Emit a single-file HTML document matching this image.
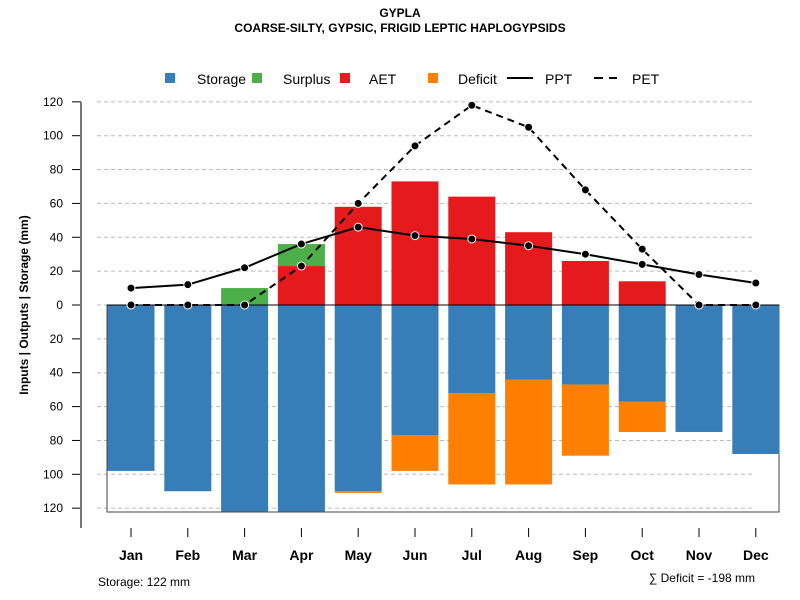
<!DOCTYPE html>
<html><head><meta charset="utf-8"><style>
body{margin:0;background:#fff;}
svg{display:block;font-family:"Liberation Sans",sans-serif;}
</style></head><body>
<svg id="c" width="800" height="600">
<text x="400" y="17" text-anchor="middle" font-size="12" font-weight="bold">GYPLA</text>
<text x="400" y="32" text-anchor="middle" font-size="12" font-weight="bold">COARSE-SILTY, GYPSIC, FRIGID LEPTIC HAPLOGYPSIDS</text>
<g id="legend" font-size="14">
<rect x="165" y="73" width="10" height="10" fill="#377eb8"/>
<text x="197" y="84">Storage</text>
<rect x="252" y="73" width="10" height="10" fill="#4daf4a"/>
<text x="283" y="84">Surplus</text>
<rect x="340" y="73" width="10" height="10" fill="#e41a1c"/>
<text x="369" y="84">AET</text>
<rect x="428" y="73" width="10" height="10" fill="#ff7f00"/>
<text x="458" y="84">Deficit</text>
<line x1="507" y1="78" x2="533" y2="78" stroke="#000" stroke-width="2"/>
<text x="545" y="84">PPT</text>
<line x1="594" y1="78" x2="617" y2="78" stroke="#000" stroke-width="2" stroke-dasharray="9,6"/>
<text x="632" y="84">PET</text>
</g>
<text transform="translate(28,305) rotate(-90)" text-anchor="middle" font-size="12" font-weight="bold">Inputs | Outputs | Storage    (mm)</text>
<text x="98" y="586" font-size="12">Storage: 122 mm</text>
<text x="755" y="582" text-anchor="end" font-size="12">∑ Deficit = -198 mm</text>
<g id="plot"></g>
</svg>
<script>
const months=["Jan","Feb","Mar","Apr","May","Jun","Jul","Aug","Sep","Oct","Nov","Dec"];
const ppt=[10,12,22,36,46,41,39,35,30,24,18,13];
const pet=[0,0,0,23,60,94,118,105,68,33,0,0];
const aet=[0,0,0,23,58,73,64,43,26,14,0,0];
const surplus=[0,0,10,13,0,0,0,0,0,0,0,0];
const storage=[98,110,122,122,110,77,52,44,47,57,75,88];
const deficit=[0,0,0,0,1,21,54,62,42,18,0,0];
const yTicks=[120,100,80,60,40,20,0,20,40,60,80,100,120];
const NS="http://www.w3.org/2000/svg";
const g=document.getElementById('plot');
const y0=305,k=1.693;
const yv=v=>y0-v*k;
const xc=i=>131+i*56.8;
const bw=47;
function mk(t,a){const e=document.createElementNS(NS,t);for(const n in a)e.setAttribute(n,a[n]);g.appendChild(e);return e;}
yTicks.forEach((t,i)=>{
  const v=i<6?t:-t; const y=yv(v);
  const gl=mk('line',{x1:97,x2:755,y1:y,y2:y,stroke:'#bbb','stroke-dasharray':'4,3'});
  
  
  const tk=mk('line',{x1:72,x2:81,y1:y,y2:y,stroke:'#000'});
  
  
  const tx=mk('text',{x:63,y:y+4,'text-anchor':'end','font-size':12});
  tx.textContent=t;
  
  
});
const ya=mk('line',{x1:81,x2:81,y1:yv(120),y2:528,stroke:'#777','stroke-width':2});


const box=mk('rect',{x:107,y:y0,width:672,height:207,fill:'none',stroke:'#444'});


const clipH=512;
months.forEach((m,i)=>{
  const x=xc(i)-bw/2;
  const s=mk('rect',{x:x,y:y0,width:bw,height:Math.min(storage[i]*k,clipH-y0),fill:'#377eb8'});
  
  
  if(deficit[i]>0){
    const d=mk('rect',{x:x,y:yv(-storage[i]),width:bw,height:deficit[i]*k,fill:'#ff7f00'});
    
    
  }
  if(aet[i]>0){
    const a=mk('rect',{x:x,y:yv(aet[i]),width:bw,height:aet[i]*k,fill:'#e41a1c'});
    
    
  }
  if(surplus[i]>0){
    const sp=mk('rect',{x:x,y:yv(aet[i]+surplus[i]),width:bw,height:surplus[i]*k,fill:'#4daf4a'});
    
    
  }
  const tk=mk('line',{x1:xc(i),x2:xc(i),y1:528,y2:537,stroke:'#000'});
  
  
  const tl=mk('text',{x:xc(i),y:560,'text-anchor':'middle','font-size':14,'font-weight':'bold'});
  tl.textContent=m;
  
  
});
const zl=mk('line',{x1:107,x2:779,y1:y0,y2:y0,stroke:'#000'});


function series(vals,name,dash){
  const pl=mk('polyline',{points:vals.map((v,i)=>xc(i)+','+yv(v)).join(' '),fill:'none',stroke:'#000','stroke-width':2,'stroke-dasharray':dash});
  
  
  vals.forEach((v,i)=>{
    const c=mk('circle',{cx:xc(i),cy:yv(v),r:4,fill:'#000',stroke:'#fff','stroke-width':1});
    
    
  });
}
series(pet,'pet','7,5');
series(ppt,'ppt','none');
</script>
</body></html>
